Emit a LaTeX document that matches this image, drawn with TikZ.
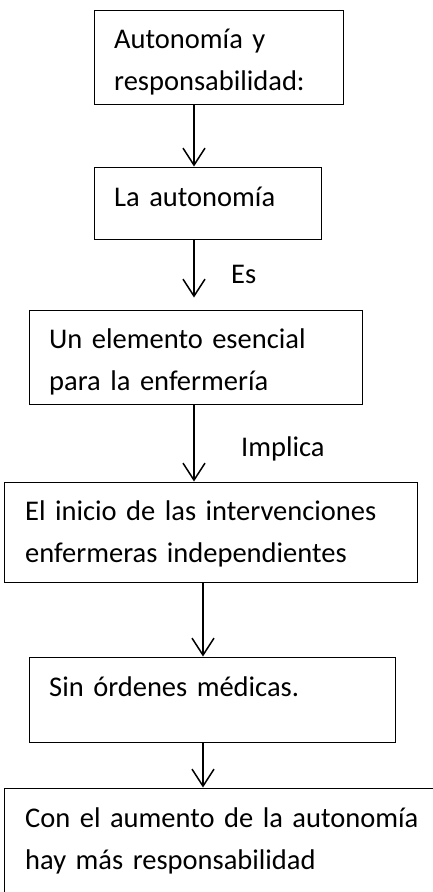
\documentclass[tikz,border=0pt]{standalone}
\usepackage{fontspec}
\setmainfont{Carlito}
\usetikzlibrary{arrows.meta}

\begin{document}
\begin{tikzpicture}[x=1pt, y=-1pt,
  caja/.style 2 args={draw, line width=1pt, minimum width=#1, minimum height=#2, inner sep=0pt},
  texto/.style={anchor=base west, inner sep=0pt, text width=420pt, align=left, font=\fontsize{28.5}{42}\selectfont},
  flecha/.style={-{Straight Barb[length=17pt, width=22pt, line width=1.5pt]}, line width=1.5pt}]
  \useasboundingbox (0,0) rectangle (433,892);
  % cajas
  \node[caja={249pt}{94pt}]  (b1) at (218.5,57)  {};
  \node[caja={227pt}{72pt}]  (b2) at (207.5,203) {};
  \node[caja={333pt}{94pt}]  (b3) at (195.5,357) {};
  \node[caja={413pt}{100pt}] (b4) at (210.5,532) {};
  \node[caja={366pt}{85pt}]  (b5) at (212,699.5) {};
  \node[caja={441pt}{117pt}] (b6) at (224.5,846.5) {};
  % textos
  \node[texto] (t1) at (114,48)  {Autonomía y\\responsabilidad:};
  \node[texto] (t2) at (114,206) {La autonomía};
  \node[texto] (t3) at (49,348)  {Un elemento esencial\\para la enfermería};
  \node[texto] (t4) at (25,520)  {El inicio de las intervenciones\\enfermeras independientes};
  \node[texto] (t5) at (49,696)  {Sin órdenes médicas.};
  \node[texto] (t6) at (25,827)  {Con el aumento de la autonomía\\hay más responsabilidad};
  \node[texto] (es)  at (231,283) {Es};
  \node[texto] (imp) at (241,456) {Implica};
  % flechas
  \coordinate (xa) at (194,0);
  \coordinate (xb) at (203,0);
  \path[flecha]
  (b1.south -| xa) edge (b2.north -| xa)
  (b2.south -| xa) edge[shorten >=12pt] (b3.north -| xa)
  (b3.south -| xa) edge (b4.north -| xa)
  (b4.south -| xb) edge (b5.north -| xb)
  (b5.south -| xb) edge (b6.north -| xb);
\end{tikzpicture}
\end{document}
